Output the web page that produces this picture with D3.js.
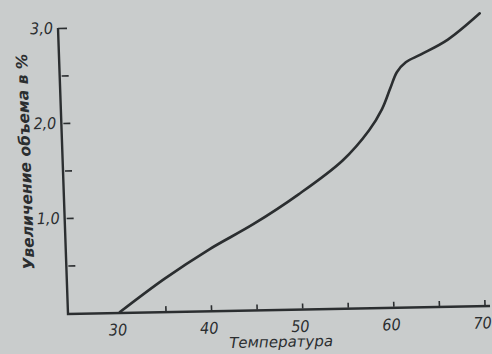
<!DOCTYPE html>
<html>
<head>
<meta charset="utf-8">
<script src="https://cdn.jsdelivr.net/npm/d3@7"></script>
<style>
  body { margin: 0; background: #c9cccc; }
  svg { display: block; }
  .lbl { font-family: "DejaVu Sans Condensed", "Liberation Sans Narrow", sans-serif; font-style: italic; fill: #2b2e30; }
  .ttl { font-family: "DejaVu Sans", sans-serif; font-style: italic; fill: #2b2e30; }
</style>
</head>
<body>
<script>
// Data
const temperature = [30, 35, 40, 45, 50, 55, 58, 59.5, 60.5, 61.3, 62.3, 64, 67, 70.6];
const volumeIncrease = [0, 0.34, 0.64, 0.90, 1.20, 1.55, 1.86, 2.08, 2.30, 2.47, 2.57, 2.65, 2.80, 3.07];
const xTicks = [35, 40, 45, 50, 55, 60, 65, 70];
const xLabels = [30, 40, 50, 60, 70];
const yTicks = [0.5, 1.0, 1.5, 2.0, 2.5, 3.0];
const yLabels = [1.0, 2.0, 3.0];

const W = 422, H = 286;
const ink = "#2b2e30";

const svg = d3.select("body").append("svg")
    .attr("width", 492)
    .attr("height", 354);

// the scan is slightly skewed, so the whole plot frame is too
const g = svg.append("g")
    .attr("transform", "matrix(1,-0.019,0.035,1,58,28)");

const x = d3.scaleLinear().domain([24.3, 70.6]).range([0, W]);
const y = d3.scaleLinear().domain([-0.01, 3]).range([H, 0]);

const comma = d => d3.format(".1f")(d).replace(".", ",");

// frame (L-shape)
g.append("path")
    .attr("d", `M0,${y.range()[1]}V${H}H${W}`)
    .attr("fill", "none")
    .attr("stroke", ink)
    .attr("stroke-width", 2.4);

// x ticks (inside, pointing up)
g.append("g")
    .attr("transform", `translate(0,${H - 1})`)
    .call(d3.axisTop(x).tickValues(xTicks).tickSize(5).tickFormat(""))
    .call(a => a.select(".domain").remove())
    .call(a => a.selectAll("line").attr("stroke", ink).attr("stroke-width", 1.6));

// x labels
g.append("g")
    .attr("transform", `translate(-3,${H})`)
    .call(d3.axisBottom(x).tickValues(xLabels).tickSize(0).tickPadding(11))
    .call(a => a.select(".domain").remove())
    .call(a => a.selectAll("text").attr("class", "lbl").attr("fill", ink).style("font-size", "16px"));

// y ticks (inside, to the right)
g.append("g")
    .attr("transform", "translate(2,0)")
    .call(d3.axisRight(y).tickValues(yTicks).tickSize(7).tickFormat(""))
    .call(a => a.select(".domain").remove())
    .call(a => a.selectAll("line").attr("stroke", ink).attr("stroke-width", 1.6)
        .attr("x1", d => d === 3 ? -2 : 0));

// y labels
g.append("g")
    .attr("transform", "translate(-1,0)")
    .call(d3.axisLeft(y).tickValues(yLabels).tickSize(0).tickPadding(4).tickFormat(comma))
    .call(a => a.select(".domain").remove())
    .call(a => a.selectAll("text").attr("class", "lbl").attr("fill", ink).style("font-size", "16px"));

// curve
const line = d3.line()
    .x((d, i) => x(temperature[i]))
    .y(d => y(d))
    .curve(d3.curveCatmullRom.alpha(0.5));

g.append("path")
    .datum(volumeIncrease)
    .attr("d", line)
    .attr("fill", "none")
    .attr("stroke", ink)
    .attr("stroke-width", 2.6)
    .attr("stroke-linecap", "round");

// axis titles
g.append("text")
    .attr("class", "ttl")
    .attr("x", 212)
    .attr("y", H + 37)
    .attr("text-anchor", "middle")
    .style("font-size", "15px")
    .text("Температура");

g.append("text")
    .attr("class", "ttl")
    .attr("transform", "translate(-32,133) rotate(-90)")
    .attr("text-anchor", "middle")
    .style("font-size", "15.5px")
    .style("font-weight", "bold")
    .text("Увеличение объема в %");
</script>
</body>
</html>
